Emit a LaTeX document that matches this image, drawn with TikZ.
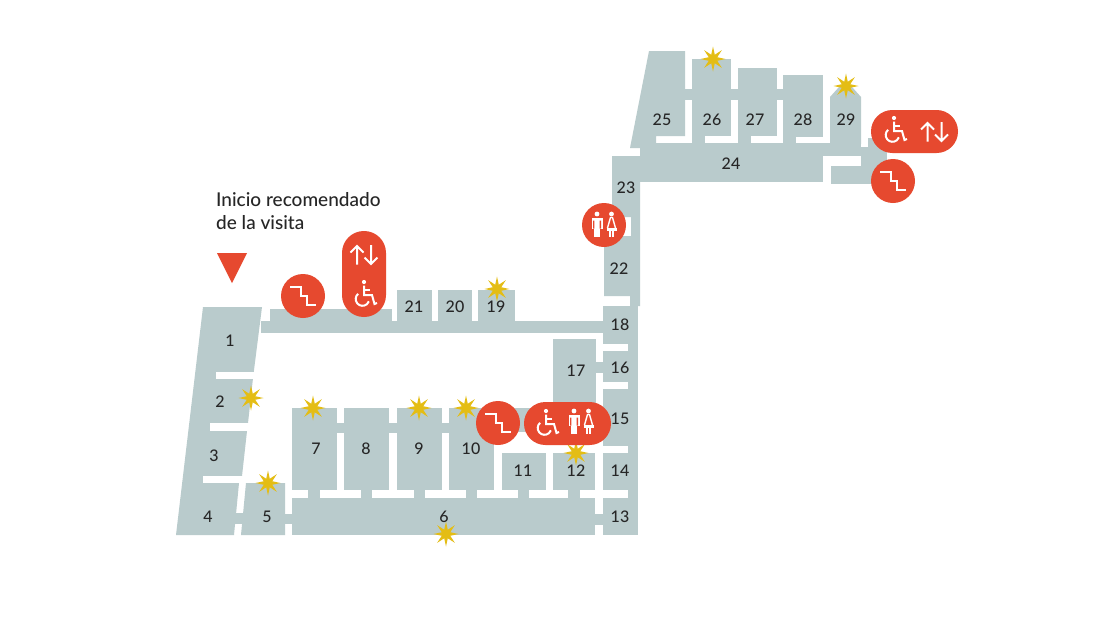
\documentclass[tikz,border=0pt]{standalone}
\usepackage{fontspec}
\setmainfont{Lato Medium}
\usetikzlibrary{shapes.geometric}
\definecolor{roomgrey}{HTML}{B9CBCC}
\definecolor{markred}{HTML}{E6492F}
\definecolor{gold}{HTML}{E4BD14}
\definecolor{ink}{HTML}{262626}
\tikzset{
  roomfill/.style={fill=roomgrey,draw=none},
  gap/.style={fill=white,draw=none},
  redfill/.style={fill=markred,draw=none},
  num/.style={text=ink,font=\fontsize{16}{16}\selectfont,inner sep=0pt},
  title/.style={text=ink,font=\fontsize{19}{19}\selectfont,inner sep=0pt,anchor=base west},
  sparkle/.style={star,star points=8,star point ratio=2.7,fill=gold,draw=none,minimum size=25pt,inner sep=0pt},
  iconline/.style={draw=white,line width=2pt,fill=none},
  stairline/.style={draw=white,line width=2pt,fill=none},
}
% icons, drawn around a centre
\newcommand{\stairicon}[2]{\begin{scope}[shift={(#1,#2)}]
  \draw[stairline] (-13,-9) -- (-2,-9) -- (-2,0) -- (4,0) -- (4,9) -- (13,9);
\end{scope}}
\newcommand{\lifticon}[2]{\begin{scope}[shift={(#1,#2)}]
  \draw[iconline] (-7,9.5) -- (-7,-9) (-13.5,-2.5) -- (-7,-9) -- (-0.5,-2.5);
  \draw[iconline] (7,-10) -- (7,9) (0.5,2.5) -- (7,9) -- (13.5,2.5);
\end{scope}}
\newcommand{\wheelicon}[2]{\begin{scope}[shift={(#1,#2)}]
  \fill[white] (0,-14) circle (2.1);
  \draw[iconline] (0,-10.5) -- (0,-1) -- (8,-1) -- (10.5,8) -- (13,7);
  \draw[iconline] (0,-6) -- (5.5,-6);
  \draw[iconline] (-1.5,3) ++(-130:6.8) arc[start angle=-130,delta angle=-210,radius=6.8];
\end{scope}}
\newcommand{\wcicon}[2]{\begin{scope}[shift={(#1,#2)}]
  \fill[white] (-7,-12) circle (2.4) (7.5,-12) circle (2.4);
  \fill[white] (-12.5,-8.5) rectangle (-1.5,2.5);
  \fill[markred] (-11,-5.5) rectangle (-9.6,2.5) (-4.4,-5.5) rectangle (-3,2.5);
  \draw[white,line width=2.1pt] (-8.5,2.5) -- (-8.5,11) (-5.5,2.5) -- (-5.5,11);
  \draw[white,line width=1.4pt] (3.5,2) -- (6.5,-8.5) -- (8.5,-8.5) -- (11.5,2);
  \fill[white] (2.5,1.5) rectangle (12.5,5);
  \draw[white,line width=2.1pt] (5.8,4) -- (5.8,11) (9.2,4) -- (9.2,11);
\end{scope}}
\begin{document}
\begin{tikzpicture}[x=1pt,y=-1pt]
\path[use as bounding box,fill=white] (0,0) rectangle (1120,630);
% --- left wing
\fill[roomfill] (203,307) -- (262,307) -- (253,378) -- (248,423) -- (247,431) -- (242,476) -- (239,483) -- (234,535) -- (176,535) -- cycle;
\fill[gap] (216,372) rectangle (256,378.5);
\fill[gap] (210,423) rectangle (250,431);
\fill[gap] (203,476) rectangle (245,483);
\fill[roomfill] (246,483) -- (285,483) -- (285,535) -- (241,535) -- cycle;
\fill[roomfill] (234,513) rectangle (246,524);
\fill[roomfill] (285,514) rectangle (292,524);
% --- lower corridor and rooms
\fill[roomfill] (292,498) rectangle (595,535);
\fill[roomfill] (595,514) rectangle (603,525);
\fill[roomfill] (292,408) rectangle (337,490);
\fill[roomfill] (344,408) rectangle (389,490);
\fill[roomfill] (397,408) rectangle (442,490);
\fill[roomfill] (449,408) rectangle (494,490);
\fill[roomfill] (494,408) rectangle (595,432);
\fill[roomfill] (502,453) rectangle (546,490);
\fill[roomfill] (553,453) rectangle (595,490);
\fill[roomfill] (553,339) rectangle (596,408);
\fill[roomfill] (596,362) rectangle (603,373);
\foreach \x/\w in {337/344,389/397,442/449}
  \fill[roomfill] (\x,423) rectangle (\w,433);
\foreach \x/\w in {308/320,361/372,414/425,466/477,518/529,568/580}
  \fill[roomfill] (\x,489) rectangle (\w,499);
% --- right column
\fill[roomfill] (603,306) rectangle (638,535);
\fill[gap] (603,344) rectangle (628,351);
\fill[gap] (603,382) rectangle (628,389);
\fill[gap] (603,445.5) rectangle (628,453);
\fill[gap] (603,490) rectangle (628,498);
% --- upper corridor
\fill[roomfill] (261,321) rectangle (603,333);
\fill[roomfill] (270,309) rectangle (392,321);
\fill[roomfill] (397,290) rectangle (432,322);
\fill[roomfill] (438,290) rectangle (472,322);
\fill[roomfill] (478,290) rectangle (515,322);
% --- rooms 22-23
\fill[roomfill] (612,156) -- (640,156) -- (640,306) -- (630,306) -- (630,296) -- (604,296) -- (604,236) -- (631,236) -- (631,217) -- (612,217) -- cycle;
% --- top wing
\fill[roomfill] (640,143) rectangle (823,182);
\fill[roomfill] (612,156) rectangle (640,182);
\fill[roomfill] (649,51) -- (685,51) -- (685,136) -- (656,136) -- (656,148) -- (630,148) -- cycle;
\fill[roomfill] (692,59) rectangle (731,136);
\fill[roomfill] (692,135) rectangle (705,144);
\fill[roomfill] (738,68) rectangle (777,136);
\fill[roomfill] (738,135) rectangle (751,144);
\fill[roomfill] (783,75) rectangle (823,137);
\fill[roomfill] (783,136) rectangle (796,144);
\foreach \x/\w in {685/692,731/738,777/783}
  \fill[roomfill] (\x,89) rectangle (\w,100);
\fill[roomfill] (830,144) -- (830,97) -- (839,87) -- (852,87) -- (861,97) -- (861,144) -- cycle;
\fill[roomfill] (823,143) rectangle (861,156);
\fill[roomfill] (861,147) rectangle (887,166);
\fill[roomfill] (868,138) rectangle (887,147);
\fill[roomfill] (831,166) rectangle (888,184);
% --- stars
\foreach \n/\x/\y in {a/251/398,b/313/408,c/268/483,d/419/408,e/466/408,f/576/453,g/446/534,h/497/289,i/713/59,j/846/86}
  \node[sparkle] (star\n) at (\x,\y) {};
% --- markers
\fill[redfill] (217,253) -- (247,253) -- (232,283) -- cycle;
\fill[redfill] (303,296) circle (22);
\fill[redfill] (498,423) circle (22);
\fill[redfill] (893,181) circle (22);
\fill[redfill] (604,225) circle (22);
\fill[redfill,rounded corners=21.9pt] (342,231) rectangle (386,317);
\fill[redfill,rounded corners=21.4pt] (524,402) rectangle (611,445);
\fill[redfill,rounded corners=21.4pt] (871,110) rectangle (958,153);
\stairicon{303}{296}
\stairicon{498}{423}
\stairicon{893}{181}
\lifticon{364}{255}
\wheelicon{364}{296}
\wheelicon{546}{425}
\wcicon{581}{423}
\wcicon{604}{226}
\wheelicon{894}{132}
\lifticon{934.5}{132}
% --- labels
\foreach \t/\x/\y in {1/230/341,2/220/402,3/214/456,4/208/517,5/267/517,6/444/517,7/316/449,8/366/449,9/419/449,10/471/449,11/523/471,12/576/471,13/620/517,14/620/471,15/620/419,16/620/368,17/576/371,18/620/325,19/496/307,20/455/307,21/414/307,22/619/269,23/626/188,24/731/164,25/662/120,26/712/120,27/755/120,28/803/120,29/846/120}
  \node[num] (room\t) at (\x,\y) {\t};
\node[title] (intro1) at (216,206.5) {Inicio recomendado};
\node[title] (intro2) at (216,229.5) {de la visita};
\end{tikzpicture}
\end{document}
